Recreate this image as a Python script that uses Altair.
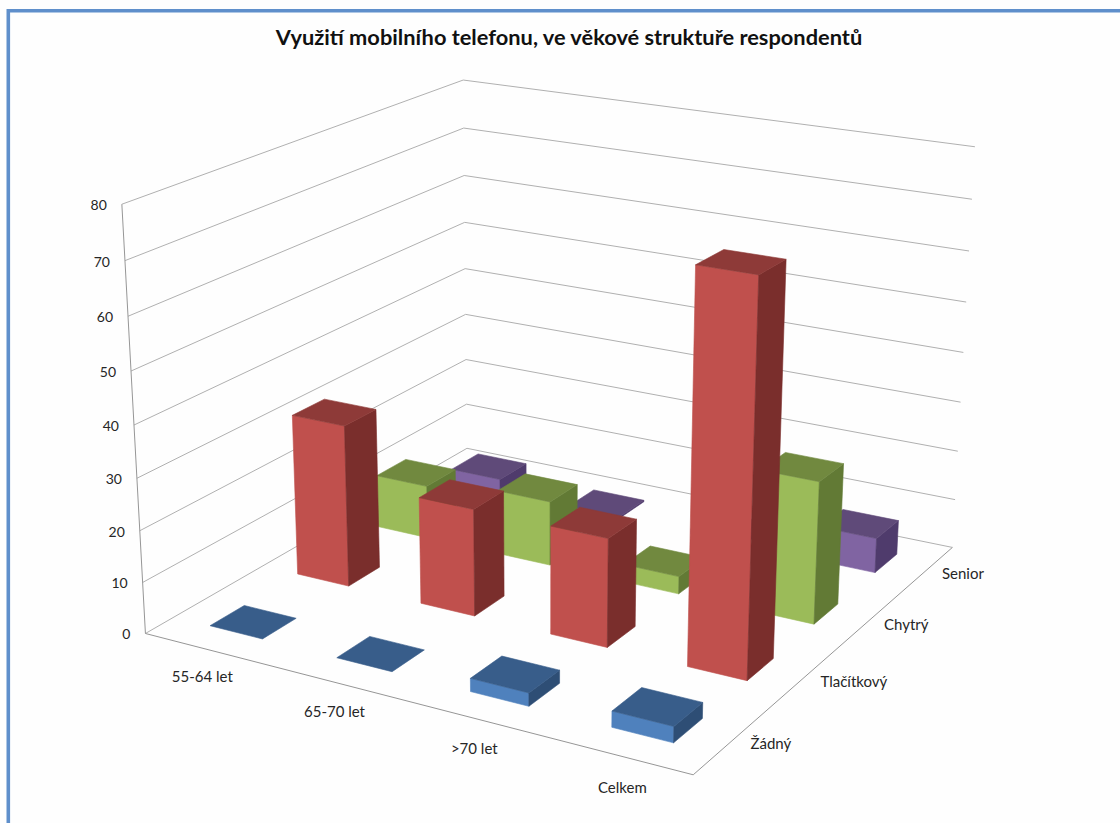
import altair as alt
import numpy as np

TITLE = "Využití mobilního telefonu, ve věkové struktuře respondentů"
AGE_GROUPS = ["55-64 let", "65-70 let", ">70 let", "Celkem"]
PHONE_TYPES = ["Žádný", "Tlačítkový", "Chytrý", "Senior"]
VALUE_TICKS = [0, 10, 20, 30, 40, 50, 60, 70, 80]

zadny = [0, 0, 2.5, 3]
tlacitkovy = [32, 21, 21, 73.5]
chytry = [10.8, 13, 3.5, 27.8]
senior = [3, 0.3, 1, 7]
SERIES = [zadny, tlacitkovy, chytry, senior]

# front, top and side shades of each series
SHADES = [
    ("#4F81BD", "#385D8A", "#2E4E75"),
    ("#C0504D", "#8E3A38", "#7A2E2C"),
    ("#9BBB59", "#71893F", "#627A35"),
    ("#8064A2", "#5F4A79", "#4F3B6C"),
]
BAR_WIDTH = 0.42
BAR_DEPTH = 0.38

# Camera: a pinhole matrix solved from where the box corners land on the page.
CAMERA_WORLD = [(0, 0, 0), (0, 0, 80), (0, 4, 0), (0, 4, 80), (4, 4, 0), (4, 4, 80), (4, 0, 0)]
CAMERA_PAGE = [(145.5, 633.5), (122, 204), (467, 448.5), (463, 80), (952.5, 547), (975, 147), (693, 775)]


def solve_camera():
    rows, rhs = [], []
    for (a, b, c), (u, v) in zip(CAMERA_WORLD, CAMERA_PAGE):
        rows.append([a, b, c, 1, 0, 0, 0, 0, -u * a, -u * b, -u * c])
        rows.append([0, 0, 0, 0, a, b, c, 1, -v * a, -v * b, -v * c])
        rhs += [u, v]
    solved = np.linalg.lstsq(np.array(rows, float), np.array(rhs, float), rcond=None)[0]
    return np.append(solved, 1.0).reshape(3, 4)


CAMERA = solve_camera()


def project(a, b, c):
    h = CAMERA @ np.array([a, b, c, 1.0])
    return [float(h[0] / h[2]), float(h[1] / h[2])]


def polygon(corners, color):
    ring = [project(*p) for p in corners]
    ring.append(ring[0])
    return {"type": "Feature", "properties": {"color": color},
            "geometry": {"type": "Polygon", "coordinates": [ring]}}


def polyline(corners):
    return {"type": "Feature", "properties": {},
            "geometry": {"type": "LineString", "coordinates": [project(*p) for p in corners]}}


def label(text, a, b, c):
    lon, lat = project(a, b, c)
    return {"text": text, "lon": lon, "lat": lat}


# Each bar is three visible faces; rows are painted from the back forwards.
faces = []
pad_x = (1 - BAR_WIDTH) / 2
pad_y = (1 - BAR_DEPTH) / 2
for j in reversed(range(len(PHONE_TYPES))):
    for i in range(len(AGE_GROUPS)):
        v = SERIES[j][i]
        x0, x1, y0, y1 = i + pad_x, i + 1 - pad_x, j + pad_y, j + 1 - pad_y
        front, top, side = SHADES[j]
        if v > 0:
            faces.append(polygon([(x0, y0, 0), (x1, y0, 0), (x1, y0, v), (x0, y0, v)], front))
            faces.append(polygon([(x1, y0, 0), (x1, y1, 0), (x1, y1, v), (x1, y0, v)], side))
        faces.append(polygon([(x0, y0, v), (x1, y0, v), (x1, y1, v), (x0, y1, v)], top))

gridlines = [polyline([(0, 0, t), (0, 4, t), (4, 4, t)]) for t in VALUE_TICKS]
box_edges = [polyline([(0, 0, 80), (0, 0, 0), (4, 0, 0), (4, 4, 0)])]

value_labels = [label(str(t), 0, 0, t) for t in VALUE_TICKS]
age_labels = [label(n, i + 0.72, -0.35, 0) for i, n in enumerate(AGE_GROUPS)]
type_labels = [label(n, 4.115, j + 0.525, 0) for j, n in enumerate(PHONE_TYPES)]

identity = dict(type="identity", scale=1, translate=[0, 0])
FONT = "Lato"


def text_layer(rows, size=15, **mark):
    return alt.Chart(alt.Data(values=rows)).mark_text(font=FONT, fontSize=size, color="#262626", **mark).encode(
        longitude="lon:Q", latitude="lat:Q", text="text:N"
    ).project(**identity)


grid_layer = alt.Chart(alt.Data(values=gridlines)).mark_geoshape(
    filled=False, stroke="#B0B0B0", strokeWidth=1
).project(**identity)
edge_layer = alt.Chart(alt.Data(values=box_edges)).mark_geoshape(
    filled=False, stroke="#969696", strokeWidth=1
).project(**identity)
bar_layer = alt.Chart(alt.Data(values=faces)).mark_geoshape(strokeWidth=0.6).encode(
    fill=alt.Fill("properties.color:N", scale=None),
    stroke=alt.Stroke("properties.color:N", scale=None),
).project(**identity)

frame_rows = [{"type": "Feature", "properties": {},
               "geometry": {"type": "LineString", "coordinates": [[8.3, 823], [8.3, 10.7], [1120, 10.7]]}}]
frame_layer = alt.Chart(alt.Data(values=frame_rows)).mark_geoshape(
    filled=False, stroke="#5F8FCB", strokeWidth=3.6
).project(**identity)

title_layer = alt.Chart(alt.Data(values=[{"text": TITLE, "lon": 569, "lat": 38}])).mark_text(
    font=FONT, fontSize=21.8, fontWeight="bold", color="#111111", align="center"
).encode(longitude="lon:Q", latitude="lat:Q", text="text:N").project(**identity)

chart = alt.layer(
    frame_layer, grid_layer, edge_layer, bar_layer,
    text_layer(value_labels, size=14, align="right", dx=-15, dy=2),
    text_layer(age_labels, align="center"),
    text_layer(type_labels, align="left"),
    title_layer,
).properties(
    width=1120, height=823, padding=0, autosize=alt.AutoSizeParams(type="none"), background="#FEFEFE"
).configure_view(stroke=None)

chart.save("out.html", embed_options={"renderer": "svg", "actions": False})
